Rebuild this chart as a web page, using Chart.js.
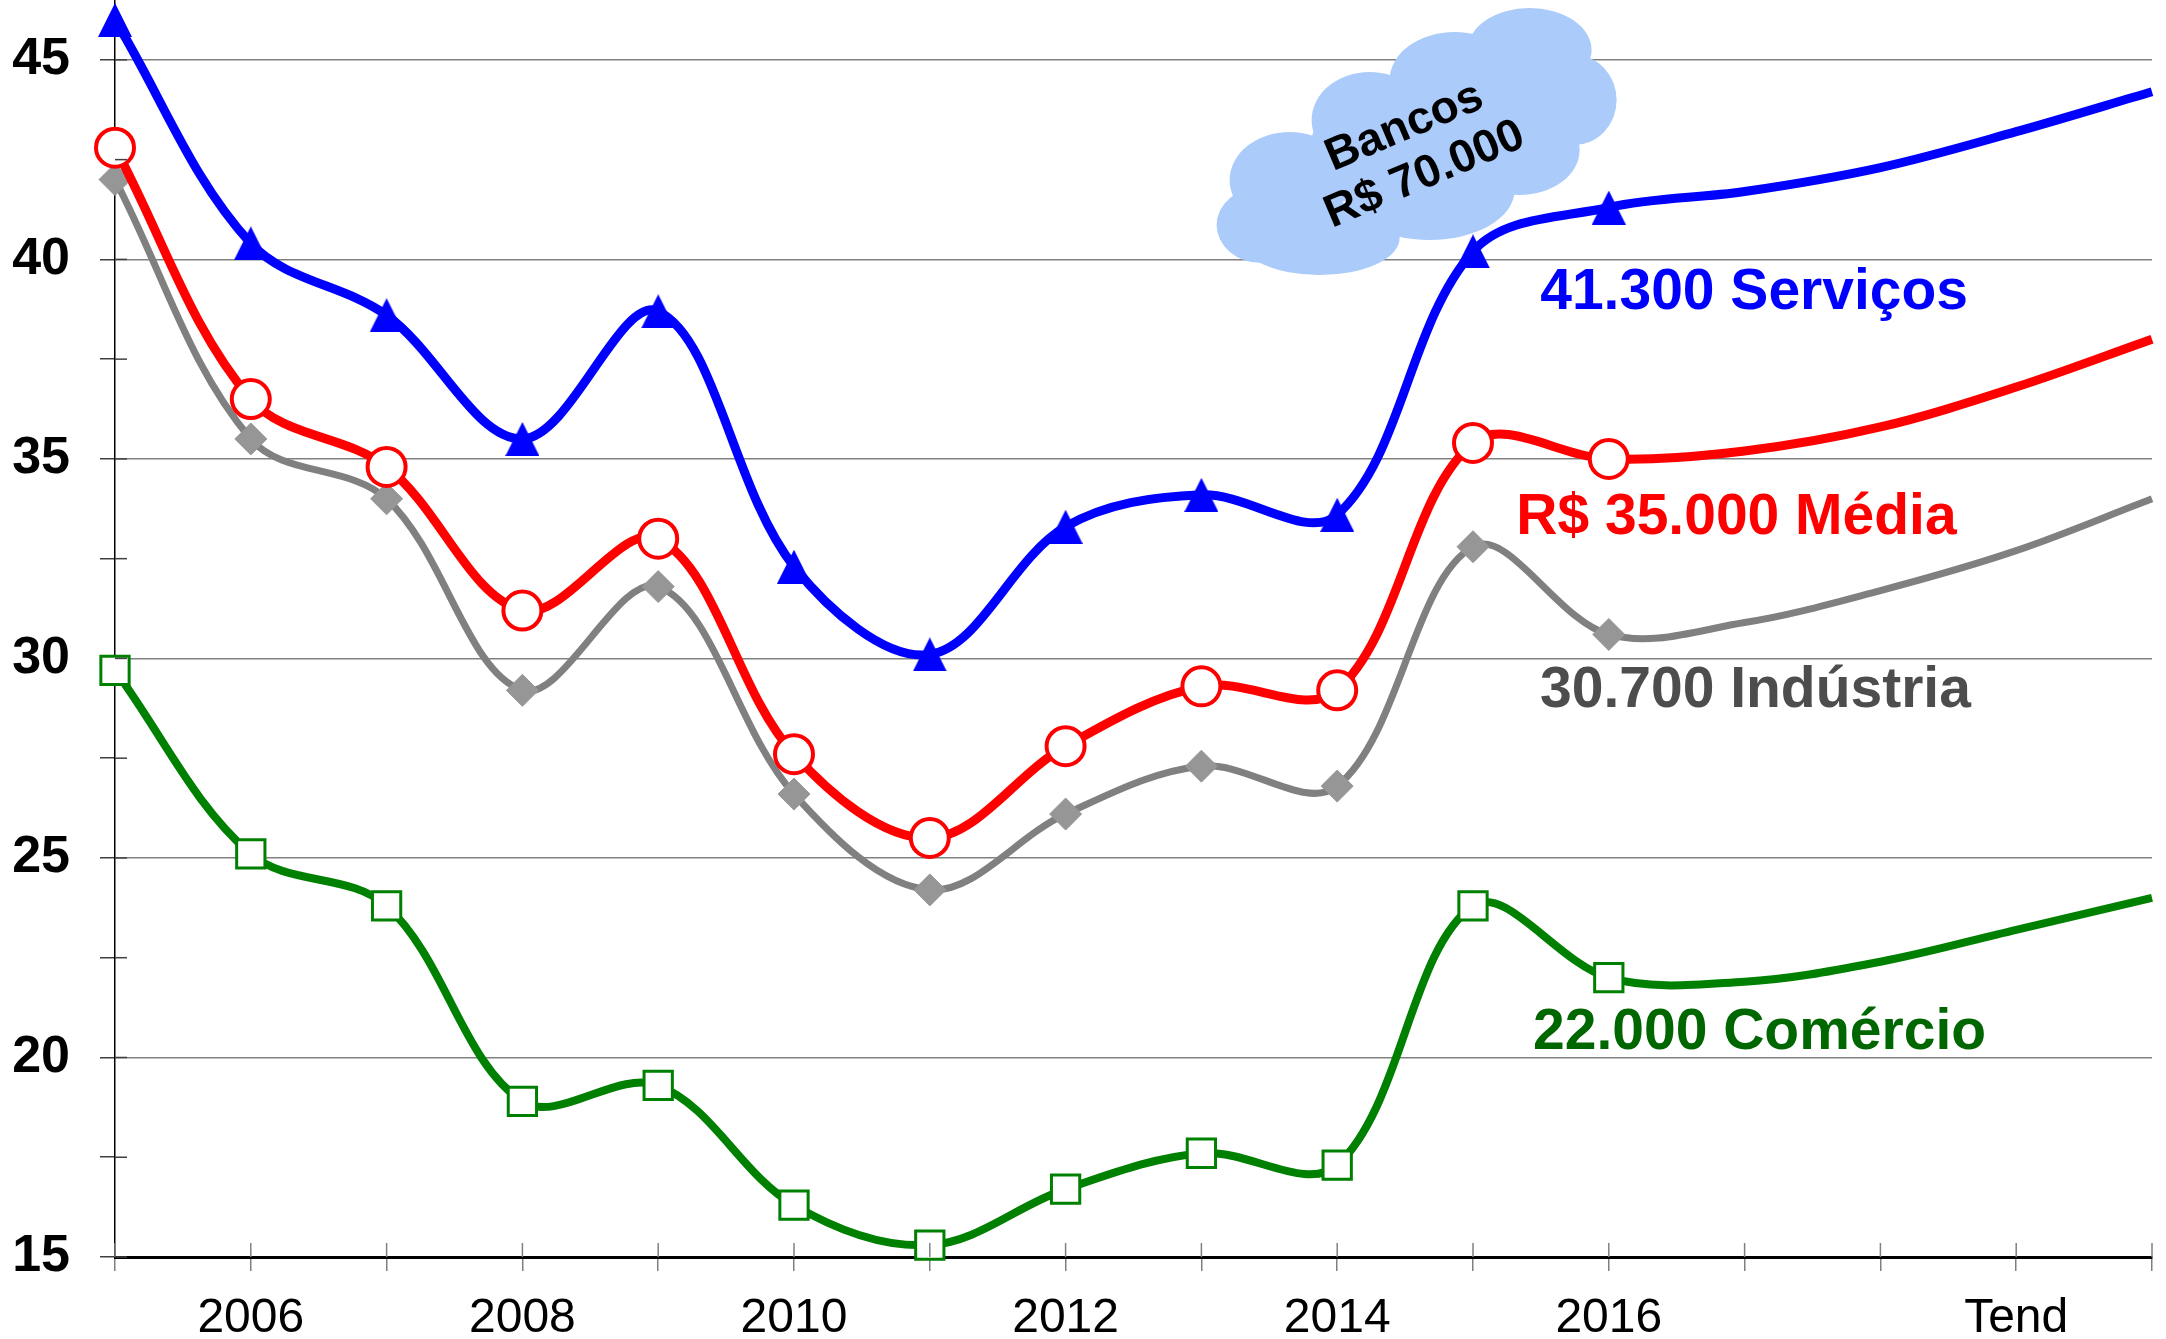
<!DOCTYPE html>
<html>
<head>
<meta charset="utf-8">
<script src="https://cdn.jsdelivr.net/npm/chart.js@4/dist/chart.umd.min.js"></script>
<style>
  html, body { margin: 0; padding: 0; background: #fff; }
  #wrap { width: 2166px; height: 1339px; }
</style>
</head>
<body>
<div id="wrap"><canvas id="chart" width="2166" height="1339"></canvas></div>
<script>
const FONT = '"Liberation Sans", Arial, sans-serif';

// 2005..2016 observed, 2017..2020 trend
const years = ['2005', '2006', '2007', '2008', '2009', '2010', '2011', '2012',
  '2013', '2014', '2015', '2016', '2017', '2018', '2019', '2020'];
const xTickLabels = ['', '2006', '', '2008', '', '2010', '', '2012',
  '', '2014', '', '2016', '', '', 'Tend', ''];
const yTickValues = [15, 17.5, 20, 22.5, 25, 27.5, 30, 32.5, 35, 37.5, 40, 42.5, 45];

// values in R$ mil
const servicos = [46.0, 40.4, 38.6, 35.5, 38.7, 32.3, 30.1, 33.3, 34.1, 33.6, 40.2, 41.3];
const servicosTend = [41.7, 42.3, 43.2, 44.2];
const media = [42.8, 36.5, 34.8, 31.2, 33.0, 27.6, 25.5, 27.8, 29.3, 29.2, 35.4, 35.0];
const mediaTend = [35.2, 35.8, 36.8, 38.0];
const industria = [42.0, 35.5, 34.0, 29.2, 31.8, 26.6, 24.2, 26.1, 27.3, 26.8, 32.8, 30.6];
const industriaTend = [30.9, 31.7, 32.7, 34.0];
const comercio = [29.7, 25.1, 23.8, 18.9, 19.3, 16.3, 15.3, 16.7, 17.6, 17.3, 23.8, 22.0];
const comercioTend = [21.9, 22.4, 23.2, 24.0];

// text labels: [text, color, x index, y value]
const seriesLabels = [
  ['41.300 Serviços', '#0000ff', 12.07, 39.16],
  ['R$ 35.000 Média', '#ff0000', 11.94, 33.52],
  ['30.700 Indústria', '#4d4d4d', 12.08, 29.18],
  ['22.000 Comércio', '#006600', 12.11, 20.61]
];
const cloudText = ['Bancos', 'R$ 70.000'];
const cloudAnchor = [9.57, 42.74];
// cloud lobes relative to anchor: dx, dy, rx, ry
const cloudLobes = [
  [-153, 75, 45, 38], [-95, 88, 80, 37], [-125, 30, 60, 48], [-45, -30, 58, 48],
  [40, -70, 65, 48], [115, -100, 62, 42], [160, -50, 42, 45], [105, 0, 60, 45],
  [15, 40, 85, 50], [5, 0, 110, 70], [95, -50, 62, 52]
];

// isosceles triangle marker like the spreadsheet one
const tri = document.createElement('canvas');
tri.width = 34;
tri.height = 34;
(function () {
  const c = tri.getContext('2d');
  c.fillStyle = '#0000ff';
  c.beginPath();
  c.moveTo(17, 0);
  c.lineTo(34, 34);
  c.lineTo(0, 34);
  c.closePath();
  c.fill();
})();

function series(observed, trend, color, width, style) {
  const n = observed.length;
  return Object.assign({
    data: observed.concat(trend),
    borderColor: color,
    borderWidth: width,
    tension: 0.35,
    clip: false,
    pointRadius: (ctx) => ctx.dataIndex < n ? style.r : 0,
    pointHoverRadius: 0
  }, style.opts);
}

const tickStubs = {
  id: 'tickStubs',
  afterDraw(chart) {
    const { ctx, chartArea, scales } = chart;
    ctx.save();
    ctx.lineWidth = 1.5;
    ctx.strokeStyle = '#808080';
    scales.x.ticks.forEach((t, i) => {
      const px = scales.x.getPixelForTick(i);
      ctx.beginPath();
      ctx.moveTo(px, chartArea.bottom - 14);
      ctx.lineTo(px, chartArea.bottom);
      ctx.stroke();
    });
    ctx.strokeStyle = '#404040';
    scales.y.ticks.forEach((t, i) => {
      const py = scales.y.getPixelForTick(i);
      ctx.beginPath();
      ctx.moveTo(chartArea.left, py);
      ctx.lineTo(chartArea.left + 12, py);
      ctx.stroke();
    });
    ctx.restore();
  }
};

const cloud = {
  id: 'cloud',
  beforeDatasetsDraw(chart) {
    const { ctx, scales } = chart;
    const cx = scales.x.getPixelForValue(cloudAnchor[0]);
    const cy = scales.y.getPixelForValue(cloudAnchor[1]);
    ctx.save();
    ctx.fillStyle = '#abcbfb';
    cloudLobes.forEach(([dx, dy, rx, ry]) => {
      ctx.beginPath();
      ctx.ellipse(cx + dx, cy + dy, rx, ry, 0, 0, Math.PI * 2);
      ctx.fill();
    });
    ctx.translate(cx, cy + 1);
    ctx.rotate(-0.40);
    ctx.fillStyle = '#000';
    ctx.font = 'bold 46px ' + FONT;
    ctx.textAlign = 'center';
    ctx.textBaseline = 'middle';
    ctx.fillText(cloudText[0], 0, -26);
    ctx.fillText(cloudText[1], 0, 26);
    ctx.restore();
  }
};

const labels = {
  id: 'labels',
  afterDatasetsDraw(chart) {
    const { ctx, scales } = chart;
    ctx.save();
    ctx.font = 'bold 57px ' + FONT;
    ctx.textAlign = 'center';
    ctx.textBaseline = 'middle';
    seriesLabels.forEach(([text, color, xi, yv]) => {
      ctx.fillStyle = color;
      ctx.fillText(text, scales.x.getPixelForValue(xi), scales.y.getPixelForValue(yv));
    });
    ctx.restore();
  }
};

new Chart(document.getElementById('chart'), {
  type: 'line',
  data: {
    labels: years,
    datasets: [
      series(servicos, servicosTend, '#0000ff', 9, { r: 17, opts: {
        pointStyle: tri } }),
      series(media, mediaTend, '#ff0000', 9, { r: 19, opts: {
        pointStyle: 'circle', pointBackgroundColor: '#ffffff', pointBorderColor: '#ff0000', pointBorderWidth: 4 } }),
      series(industria, industriaTend, '#808080', 7, { r: 16, opts: {
        pointStyle: 'rectRot', pointBackgroundColor: '#969696', pointBorderColor: '#969696', pointBorderWidth: 1 } }),
      series(comercio, comercioTend, '#008000', 8, { r: 20, opts: {
        pointStyle: 'rect', pointBackgroundColor: '#ffffff', pointBorderColor: '#008000', pointBorderWidth: 3 } })
    ]
  },
  options: {
    responsive: false,
    animation: false,
    layout: { autoPadding: false, padding: { top: 0, right: 14, left: 0, bottom: 0 } },
    plugins: { legend: { display: false }, tooltip: { enabled: false } },
    scales: {
      x: {
        offset: false,
        grid: { drawOnChartArea: false, color: '#808080', lineWidth: 1.5, tickLength: 14 },
        border: { color: '#000', width: 3 },
        ticks: {
          autoSkip: false, maxRotation: 0, padding: 19, color: '#000',
          font: { family: FONT, size: 48 },
          callback: (v, i) => xTickLabels[i]
        },
        afterFit: (s) => { s.height = 82; s.paddingLeft = 0; s.paddingRight = 0; }
      },
      y: {
        min: 15,
        max: 46.5,
        afterBuildTicks: (s) => { s.ticks = yTickValues.map((v) => ({ value: v })); },
        grid: {
          color: (c) => (c.tick && c.tick.value % 5 === 0) ? '#808080' : 'rgba(0,0,0,0)',
          tickColor: '#404040', lineWidth: 1.5, tickLength: 15
        },
        border: { color: '#000', width: 1.5 },
        ticks: {
          padding: 30, color: '#000',
          font: { family: FONT, size: 52, weight: 'bold' },
          callback: (v) => v % 5 === 0 ? v : ''
        },
        afterFit: (s) => { s.width = 115; s.paddingTop = 0; s.paddingBottom = 0; }
      }
    }
  },
  plugins: [cloud, labels, tickStubs]
});
</script>
</body>
</html>
